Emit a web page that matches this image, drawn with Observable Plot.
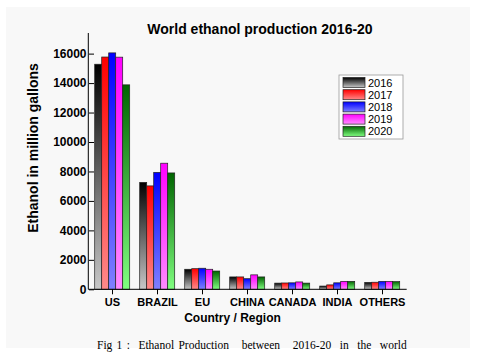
<!DOCTYPE html>
<html>
<head>
<meta charset="utf-8">
<script src="https://cdn.jsdelivr.net/npm/d3@7"></script>
<script src="https://cdn.jsdelivr.net/npm/@observablehq/plot@0.6"></script>
<style>
  html, body { margin: 0; padding: 0; background: #ffffff; }
  #chart svg { display: block; }
</style>
</head>
<body>
<div id="chart"></div>
<script>
// ---- Data (million gallons) ----
const countries = ["US", "BRAZIL", "EU", "CHINA", "CANADA", "INDIA", "OTHERS"];
const years = ["2016", "2017", "2018", "2019", "2020"];
const v2016 = [15280, 7260, 1360, 840, 420, 220, 470];
const v2017 = [15770, 7020, 1400, 840, 430, 300, 480];
const v2018 = [16050, 7940, 1430, 720, 440, 440, 540];
const v2019 = [15760, 8560, 1360, 980, 500, 540, 540];
const v2020 = [13880, 7900, 1240, 840, 420, 540, 520];
const yTicks = [0, 2000, 4000, 6000, 8000, 10000, 12000, 14000, 16000];
const titleText = "World ethanol production 2016-20";
const yLabel = "Ethanol in million gallons";
const xLabel = "Country / Region";
const captionText = "Fig 1 :  Ethanol Production   between   2016-20  in  the  world";

const series = [v2016, v2017, v2018, v2019, v2020];
const gradients = {
  "2016": ["#000000", "#c8c8c8"],
  "2017": ["#ff0000", "#ff8a8a"],
  "2018": ["#0000ff", "#8080ff"],
  "2019": ["#ff00ff", "#ff8cff"],
  "2020": ["#006400", "#80ff80"]
};

const data = countries.flatMap((c, i) =>
  years.map((y, j) => ({country: c, year: y, value: series[j][i]}))
);

const W = 492, H = 364;
const mL = 88.3, mR = 85.3, mT = 33, mB = 74.7;

const plot = Plot.plot({
  width: W,
  height: H,
  marginLeft: mL,
  marginRight: mR,
  marginTop: mT,
  marginBottom: mB,
  style: {background: "transparent", fontFamily: "'Liberation Sans', Arial, sans-serif", color: "#000"},
  fx: {domain: countries, paddingInner: 0.19, paddingOuter: 0.11, label: null},
  x: {domain: years, padding: 0, axis: null},
  y: {domain: [0, 17400], label: null},
  color: {type: "identity"},
  marks: [
    Plot.barY(data, {
      fx: "country",
      x: "year",
      y: "value",
      fill: d => `url(#grad${d.year})`,
      stroke: "#222",
      strokeWidth: 0.7
    }),
    Plot.axisY({
      ticks: yTicks,
      tickFormat: d3.format("d"),
      tickSize: 5,
      tickPadding: 3,
      fontWeight: "bold",
      fontSize: 12,
      label: null
    }),
    Plot.axisFx({
      anchor: "bottom",
      tickSize: 5,
      tickPadding: 3,
      fontWeight: "bold",
      fontSize: 11,
      label: null
    })
  ]
});

const svg = d3.select(plot);

// gradients
const defs = svg.insert("defs", ":first-child");
for (const y of years) {
  const g = defs.append("linearGradient")
    .attr("id", "grad" + y)
    .attr("x1", 0).attr("y1", 0).attr("x2", 0).attr("y2", 1);
  g.append("stop").attr("offset", "0%").attr("stop-color", gradients[y][0]);
  g.append("stop").attr("offset", "100%").attr("stop-color", gradients[y][1]);
}

// panel background
svg.insert("rect", "defs + *")
  .attr("x", 6).attr("y", 7).attr("width", 464).attr("height", 341)
  .attr("fill", "#f8f8f8");

// axis lines from the library's scales
const ys = plot.scale("y");
const y0 = ys.apply(0);
const yTop = Math.min(...ys.range);
svg.append("line")
  .attr("x1", mL).attr("x2", mL).attr("y1", yTop).attr("y2", y0)
  .attr("stroke", "#000").attr("stroke-width", 1);
svg.append("line")
  .attr("x1", mL).attr("x2", W - mR).attr("y1", y0).attr("y2", y0)
  .attr("stroke", "#000").attr("stroke-width", 1);

const font = "'Liberation Sans', Arial, sans-serif";
// title
svg.append("text")
  .attr("x", 260).attr("y", 34)
  .attr("text-anchor", "middle")
  .attr("font-family", font).attr("font-weight", "bold").attr("font-size", 14)
  .attr("fill", "#000")
  .text(titleText);
// y label
svg.append("text")
  .attr("transform", "translate(38,148) rotate(-90)")
  .attr("text-anchor", "middle")
  .attr("font-family", font).attr("font-weight", "bold").attr("font-size", 14)
  .attr("fill", "#000")
  .text(yLabel);
// x label
svg.append("text")
  .attr("x", 232.5).attr("y", 322)
  .attr("text-anchor", "middle")
  .attr("font-family", font).attr("font-weight", "bold").attr("font-size", 12)
  .attr("fill", "#000")
  .text(xLabel);
// caption
svg.append("text")
  .attr("x", 97).attr("y", 349)
  .attr("text-anchor", "start")
  .attr("font-family", "'Liberation Serif', 'Times New Roman', serif").attr("font-size", 11.5)
  .attr("word-spacing", 1.4)
  .attr("fill", "#000")
  .style("white-space", "pre")
  .attr("xml:space", "preserve")
  .text(captionText);

// legend
const lg = svg.append("g").attr("transform", "translate(339,75)");
lg.append("rect").attr("x", 0).attr("y", 0).attr("width", 64).attr("height", 64)
  .attr("fill", "#fff").attr("stroke", "#999").attr("stroke-width", 0.8);
years.forEach((y, i) => {
  const ry = 2.5 + i * 12.2;
  lg.append("rect").attr("x", 4).attr("y", ry).attr("width", 22).attr("height", 10)
    .attr("fill", `url(#grad${y})`).attr("stroke", "#222").attr("stroke-width", 0.7);
  lg.append("text").attr("x", 29).attr("y", ry + 9)
    .attr("text-anchor", "start")
    .attr("font-family", font).attr("font-size", 11).attr("fill", "#000")
    .text(y);
});

document.getElementById("chart").appendChild(plot);
</script>
</body>
</html>
